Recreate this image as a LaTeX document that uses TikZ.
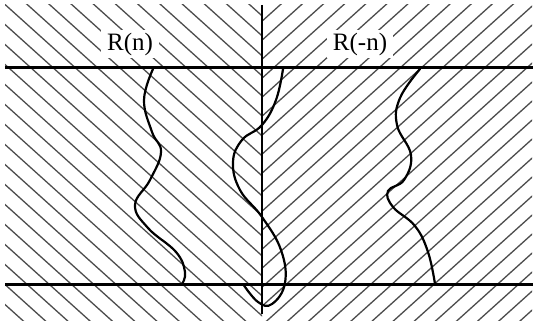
\documentclass[tikz,border=0pt]{standalone}
\usepackage{fontspec}
\setmainfont{Liberation Serif}
\begin{document}
\begin{tikzpicture}[x=1pt,y=-1pt,
  hatch/.style={black!70,line width=1.3pt},
  bar/.style={line width=3pt},
  axisline/.style={line width=2.2pt},
  curve/.style={line width=2.2pt,line cap=round},
  lab/.style={fill=white,inner xsep=6pt,inner ysep=3pt,font=\fontsize{25}{28}\selectfont}]
\useasboundingbox (0,0) rectangle (533,329);
% left hatching
\begin{scope}
  \clip (5,5) rectangle (262,320);
  \foreach \c in {-320,-300,...,340}
    \draw[hatch] (0,\c) -- (540,\c+486);
\end{scope}
% right hatching
\begin{scope}
  \clip (262,5) rectangle (532,320);
  \foreach \c in {200,219,...,900}
    \draw[hatch] (250,\c-225) -- (540,\c-486);
\end{scope}
% labels
\node[lab] (rn) at (130,44) {R(n)};
\node[lab] (rmn) at (360,44) {R(-n)};
% lines
\draw[bar] (5,68) -- (533,68);
\draw[bar] (5,284) -- (533,284);
\draw[axisline] (262,5) -- (262,314);
% curves
\draw[curve] plot[smooth,tension=0.7] coordinates {(153,69) (144,100) (152,132) (161,152) (150,180) (135,205) (148,228) (176,252) (185,272) (182,284)};
\draw[curve] plot[smooth,tension=0.7] coordinates {(283,69) (276,100) (262,125) (242,140) (233,162) (240,190) (262,217) (281,250) (285,283) (272,304) (258,302) (243,284)};
\draw[curve] plot[smooth,tension=0.7] coordinates {(420,69) (400,98) (397,125) (411,155) (404,180) (388,191) (393,207) (415,226) (428,252) (435,284)};
\end{tikzpicture}
\end{document}
